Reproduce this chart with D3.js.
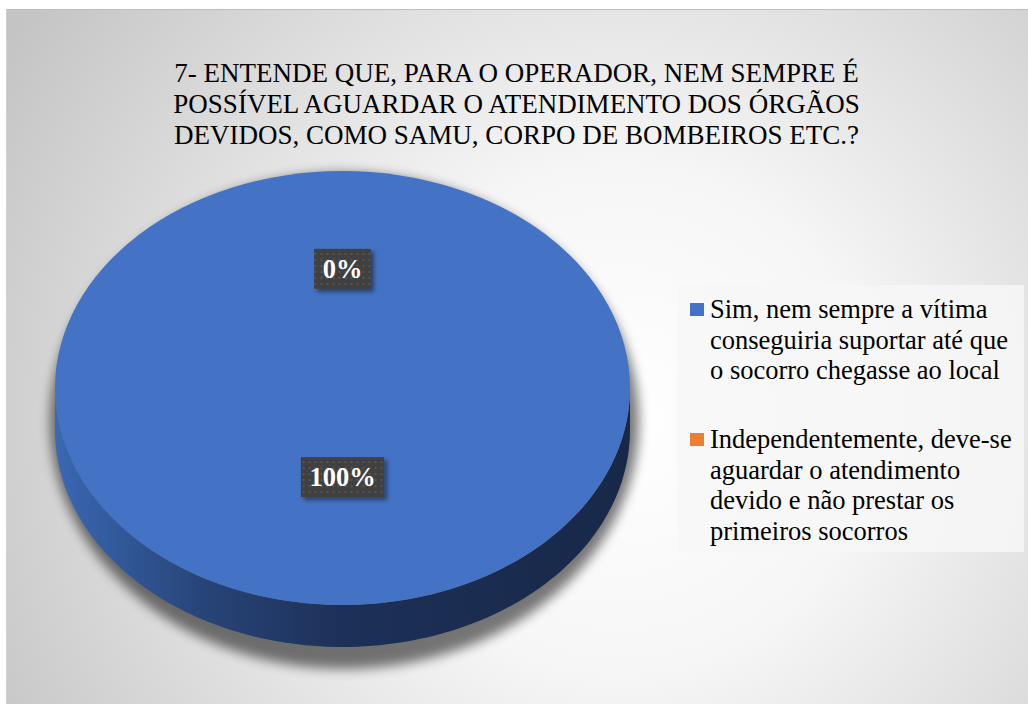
<!DOCTYPE html>
<html><head><meta charset="utf-8">
<script src="https://cdn.jsdelivr.net/npm/d3@7"></script>
<style>html,body{margin:0;padding:0;background:#fff;}svg{display:block;}</style>
</head><body>
<svg id="chart" width="1028" height="704"></svg>
<script>
const titleLines = ["7- ENTENDE QUE, PARA O OPERADOR, NEM SEMPRE É",
  "POSSÍVEL AGUARDAR O ATENDIMENTO DOS ÓRGÃOS",
  "DEVIDOS, COMO SAMU, CORPO DE BOMBEIROS ETC.?"];
const categories = ["Sim, nem sempre a vítima conseguiria suportar até que o socorro chegasse ao local",
  "Independentemente, deve-se aguardar o atendimento devido e não prestar os primeiros socorros"];
const legendLines = [["Sim, nem sempre a vítima","conseguiria suportar até que","o socorro chegasse ao local"],
  ["Independentemente, deve-se","aguardar o atendimento","devido e não prestar os","primeiros socorros"]];
const values = [100, 0];
const colors = ["#4472c4", "#ed7d31"];
const FONT = '"Liberation Serif", "Times New Roman", Tinos, serif';

const svg = d3.select("#chart");
const W = 1028, H = 704;
const defs = svg.append("defs");

// background gradient
const bg = defs.append("radialGradient").attr("id","bg")
  .attr("gradientUnits","userSpaceOnUse").attr("cx",620).attr("cy",420).attr("r",720);
bg.append("stop").attr("offset","0%").attr("stop-color","#ffffff");
bg.append("stop").attr("offset","35%").attr("stop-color","#f6f6f6");
bg.append("stop").attr("offset","100%").attr("stop-color","#c4c4c4");
svg.append("rect").attr("x",7).attr("y",9).attr("width",W-7).attr("height",H-9).attr("fill","url(#bg)");
svg.append("line").attr("x1",7).attr("x2",W).attr("y1",9.5).attr("y2",9.5).attr("stroke","#bdbdbd").attr("stroke-width",1);
svg.append("line").attr("x1",6.5).attr("x2",6.5).attr("y1",9).attr("y2",H).attr("stroke","#d0d0d0").attr("stroke-width",1);

// title
const title = svg.append("text").style("font-family",FONT).attr("text-anchor","middle")
  .attr("font-size",27).attr("fill","#000");
titleLines.forEach((t,i)=>title.append("tspan").attr("x",516.5).attr("y",82+i*31).text(t));

// pie geometry
const cx = 342.5, cy = 388, rx = 287.5, ry = 217, depth = 42;
const pie = d3.pie().sort(null).value(d=>d);
const arcs = pie(values);
const px = a => cx + rx*Math.sin(a);
const py = a => cy - ry*Math.cos(a);

// shadow
const shf = defs.append("filter").attr("id","pshadow").attr("x","-20%").attr("y","-20%").attr("width","140%").attr("height","140%");
shf.append("feGaussianBlur").attr("stdDeviation",6);
svg.append("ellipse").attr("cx",cx+2).attr("cy",cy+depth/2+12).attr("rx",rx+7).attr("ry",ry+depth/2+10)
  .attr("fill","#000").attr("opacity",0.52).attr("filter","url(#pshadow)");

// side gradient
const sg = defs.append("linearGradient").attr("id","side").attr("gradientUnits","userSpaceOnUse")
  .attr("x1",cx-rx).attr("x2",cx+rx).attr("y1",0).attr("y2",0);
[["0%","#3a68b4"],["25%","#284579"],["50%","#1d3058"],["100%","#172848"]].forEach(s=>
  sg.append("stop").attr("offset",s[0]).attr("stop-color",s[1]));

// side walls (front half)
arcs.forEach((d,i)=>{
  const a1 = Math.max(d.startAngle, Math.PI/2), a2 = Math.min(d.endAngle, 3*Math.PI/2);
  if (a2 <= a1) return;
  const n = 120, pts = [];
  for (let k=0;k<=n;k++){ const a=a1+(a2-a1)*k/n; pts.push([px(a),py(a)]); }
  for (let k=n;k>=0;k--){ const a=a1+(a2-a1)*k/n; pts.push([px(a),py(a)+depth]); }
  svg.append("path").attr("d", d3.line()(pts)+"Z").attr("fill", i===0 ? "url(#side)" : d3.color(colors[i]).darker(1.2));
});

// top faces
const arcGen = d3.arc().innerRadius(0).outerRadius(1);
svg.append("g").attr("transform",`translate(${cx},${cy}) scale(${rx},${ry})`)
  .selectAll("path").data(arcs).join("path")
  .attr("d",arcGen).attr("fill",(d,i)=>colors[i]);

// data labels
const pat = defs.append("pattern").attr("id","dots").attr("patternUnits","userSpaceOnUse").attr("width",6).attr("height",6);
pat.append("rect").attr("width",6).attr("height",6).attr("fill","#404040");
pat.append("rect").attr("x",2).attr("y",2).attr("width",2).attr("height",2).attr("fill","#555555");
const lsf = defs.append("filter").attr("id","lshadow").attr("x","-30%").attr("y","-30%").attr("width","160%").attr("height","160%");
lsf.append("feDropShadow").attr("dx",3).attr("dy",3).attr("stdDeviation",2).attr("flood-color","#000").attr("flood-opacity",0.45);
const total = d3.sum(values);
arcs.forEach((d,i)=>{
  const a = (d.startAngle+d.endAngle)/2;
  const lx = cx + 0.48*rx*Math.sin(a), ly = cy - 0.48*ry*Math.cos(a) - 15;
  const txt = Math.round(d.data/total*100)+"%";
  const g = svg.append("g").attr("transform",`translate(${lx},${ly})`);
  const t = g.append("text").style("font-family",FONT).attr("text-anchor","middle").attr("dy","0.34em")
    .attr("font-weight","bold").attr("font-size",26.5).attr("fill","#fff").text(txt);
  const bw = t.node().getComputedTextLength()+17;
  g.insert("rect","text").attr("x",-bw/2).attr("y",-20).attr("width",bw).attr("height",40)
    .attr("fill","url(#dots)").attr("filter","url(#lshadow)");
});

// legend
const lg = svg.append("g");
lg.append("rect").attr("x",677).attr("y",285).attr("width",347).attr("height",267).attr("fill","#f7f7f7").attr("opacity",0.85);
const starts = [318, 448];
categories.forEach((c,i)=>{
  lg.append("rect").attr("x",690).attr("y",starts[i]-15).attr("width",14).attr("height",13).attr("fill",colors[i]);
  const t = lg.append("text").style("font-family",FONT).attr("font-size",26.5).attr("fill","#000");
  t.append("title").text(c);
  legendLines[i].forEach((l,k)=>t.append("tspan").attr("x",710).attr("y",starts[i]+k*30.6).text(l));
});
</script>
</body></html>
